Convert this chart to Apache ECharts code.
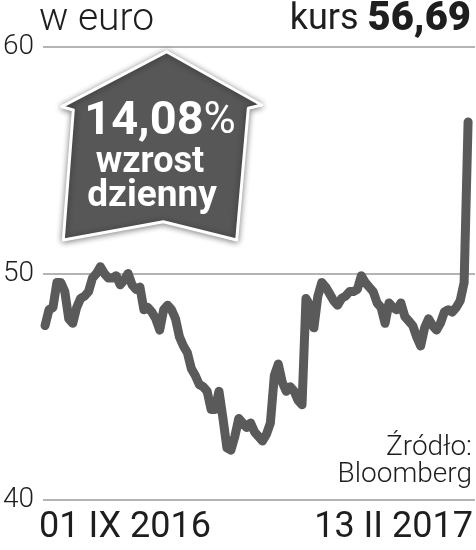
<!DOCTYPE html>
<html>
<head>
<meta charset="utf-8">
<script src="https://cdn.jsdelivr.net/npm/echarts@6/dist/echarts.min.js"></script>
<style>html,body{margin:0;padding:0;background:#fff}#c{width:476px;height:550px}</style>
</head>
<body>
<div id="c"></div>
<script>
// ---- data ----
const dateLabels = ['01 IX 2016', '13 II 2017'];
const yTicks = [40, 50, 60];
const prices = [
  47.7, 48.4, 48.5, 49.6, 49.6, 49.2, 48.0, 47.8, 48.5, 48.9,
  49.0, 49.2, 49.8, 50.0, 50.3, 50.0, 49.8, 49.8, 49.9, 49.5,
  49.7, 50.0, 49.5, 49.3, 49.4, 48.4, 48.5, 48.3, 48.0, 47.5,
  48.4, 48.6, 48.4, 48.0, 47.2, 46.8, 46.5, 45.8, 45.5, 45.1,
  45.0, 44.8, 44.0, 44.0, 44.8, 43.6, 42.3, 42.2, 42.8, 43.6,
  43.4, 43.2, 43.4, 43.0, 42.8, 42.6, 42.9, 43.4, 45.5, 46.0,
  45.2, 44.8, 45.0, 44.8, 44.4, 44.2, 48.9, 48.6, 47.6, 49.0,
  49.6, 49.4, 49.1, 48.8, 48.6, 48.9, 49.0, 49.2, 49.2, 49.3,
  49.9, 49.6, 49.4, 49.2, 48.7, 48.5, 47.8, 48.7, 48.5, 48.4,
  48.7, 48.1, 47.9, 47.7, 47.2, 46.8, 47.6, 48.0, 47.7, 47.5,
  47.8, 48.3, 48.4, 48.3, 48.5, 48.8, 49.6, 56.69
];
const unitLabel = 'w euro';
const priceLabel = 'kurs';
const priceValue = '56,69';
const changeLabel = '14,08%';
const changeText1 = 'wzrost';
const changeText2 = 'dzienny';
const sourceLines = ['Źródło:', 'Bloomberg'];

// ---- chart ----
const FONT = 'Roboto, "Noto Sans", sans-serif';
const TXT = '#1e1e1e';
const seriesData = prices.map((v, i) => [i, v]);
const n = prices.length;
const padL = 0.5, padR = 1.75;

const chart = echarts.init(document.getElementById('c'), null, {renderer: 'canvas'});
chart.setOption({
  animation: false,
  backgroundColor: '#fff',
  grid: {left: 40, right: 0, top: 47, bottom: 50, containLabel: false},
  xAxis: [
    {type: 'value', min: -padL, max: n - 1 + padR, show: false},
    {type: 'category', data: dateLabels, boundaryGap: false, position: 'bottom',
     axisLine: {show: false}, axisTick: {show: false}, splitLine: {show: false},
     axisLabel: {show: true, interval: 0, margin: 10, color: TXT, fontFamily: FONT,
                 fontSize: 36, fontWeight: 400, alignMinLabel: 'left', alignMaxLabel: 'right',
                 padding: [0, 2, 0, -4]}}
  ],
  yAxis: {
    type: 'value', min: yTicks[0], max: yTicks[yTicks.length - 1], interval: 10,
    axisLine: {show: false}, axisTick: {show: false},
    splitLine: {show: true, lineStyle: {color: '#b4b4b4', width: 2}},
    axisLabel: {margin: 9, color: TXT, fontFamily: FONT, fontSize: 28, fontWeight: 300}
  },
  series: [{
    type: 'line', xAxisIndex: 0, data: seriesData, showSymbol: false, symbol: 'none',
    lineStyle: {color: '#5a5a5a', width: 9, cap: 'round', join: 'round'},
    z: 3
  }],
  graphic: [
    {type: 'text', left: 39, top: 1, z: 10,
     style: {text: unitLabel, font: '300 39px ' + FONT, fill: TXT}},
    {type: 'text', right: 5, top: 0, z: 10,
     style: {text: '{a|' + priceLabel + ' }{b|' + priceValue + '}', fill: TXT,
             rich: {a: {fontFamily: FONT, fontSize: 36, fontWeight: 400, fill: TXT},
                    b: {fontFamily: FONT, fontSize: 40, fontWeight: 900, fill: TXT}}}},
    {type: 'polygon', z: 8,
     shape: {points: [[166.7, 51.7], [261.7, 105], [248.3, 108.3], [236.7, 240], [163.3, 221.7],
                      [63.3, 240], [73.3, 110], [61.7, 106.7]]},
     style: {fill: '#575757', stroke: '#ffffff', lineWidth: 3, lineJoin: 'round',
             shadowBlur: 6, shadowColor: 'rgba(0,0,0,0.45)', shadowOffsetX: 0, shadowOffsetY: 1}},
    {type: 'text', x: 160, y: 122, z: 10,
     style: {text: '{n|14,08}{p|%}', fill: '#fff', align: 'center', verticalAlign: 'middle',
             rich: {n: {fontFamily: FONT, fontSize: 47, fontWeight: 700, fill: '#fff'},
                    p: {fontFamily: FONT, fontSize: 44, fontWeight: 400, fill: '#fff'}}}},
    {type: 'text', x: 150, y: 163, z: 10,
     style: {text: changeText1, font: '700 36px ' + FONT, fill: '#fff', align: 'center', verticalAlign: 'middle'}},
    {type: 'text', x: 152, y: 197, z: 10,
     style: {text: changeText2, font: '700 37px ' + FONT, fill: '#fff', align: 'center', verticalAlign: 'middle'}},
    {type: 'text', x: 472, y: 448, z: 10,
     style: {text: sourceLines[0], font: '300 28px ' + FONT, fill: TXT, align: 'right', verticalAlign: 'middle'}},
    {type: 'text', x: 472, y: 475, z: 10,
     style: {text: sourceLines[1], font: '300 28px ' + FONT, fill: TXT, align: 'right', verticalAlign: 'middle'}}
  ]
});
</script>
</body>
</html>
